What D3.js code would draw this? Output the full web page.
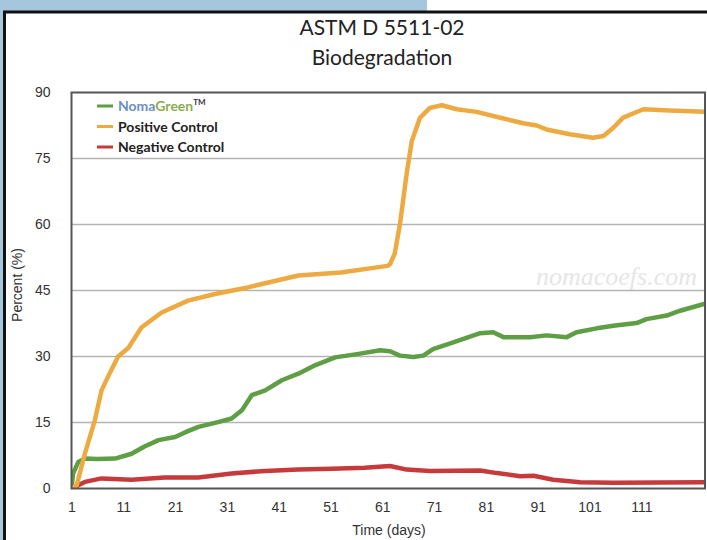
<!DOCTYPE html>
<html>
<head>
<meta charset="utf-8">
<script src="https://cdn.jsdelivr.net/npm/d3@7"></script>
<style>
  html, body { margin: 0; padding: 0; background: #fff; }
  svg { display: block; }
</style>
</head>
<body>
<div id="chart"></div>
<script>
// data (day, percent)
var greenDays = [1, 1.3, 2.3, 3.6, 6, 9.4, 12.6, 15, 17.8, 21, 23, 25.5, 29.3, 31.9, 33.9, 35.8, 38.4, 41.6, 44.8, 48, 51.9, 56.4, 60.6, 62.5, 64.4, 67, 68.9, 70.8, 74.7, 79.9, 82.4, 84.4, 89.5, 92.7, 96.6, 98.5, 102.4, 105.6, 110.1, 112, 115.9, 118.5, 123.3];
var greenVals = [0, 3.4, 6, 6.8, 6.7, 6.8, 7.9, 9.5, 11, 11.7, 12.8, 14, 15.1, 15.9, 17.8, 21.2, 22.3, 24.6, 26.1, 28, 29.8, 30.6, 31.4, 31.2, 30.2, 29.9, 30.2, 31.7, 33.2, 35.3, 35.5, 34.4, 34.4, 34.8, 34.4, 35.5, 36.4, 37, 37.6, 38.5, 39.3, 40.4, 42];

var posDays = [1, 2, 3.6, 5.5, 6.8, 8.5, 10, 12, 14.5, 18.4, 23.5, 28.7, 35, 44.8, 53, 62, 62.5, 63.4, 64.4, 65.7, 66.7, 68.3, 70.2, 72.5, 75.4, 79.2, 84.4, 88.2, 90.8, 92.7, 97.2, 101.7, 103.7, 105.6, 107.5, 111.4, 116.5, 123.3];
var posVals = [0, 0.7, 8, 15.5, 22.3, 26.5, 30, 32, 36.6, 40, 42.7, 44.2, 45.7, 48.4, 49.1, 50.6, 51, 53.4, 60, 71.5, 79, 84.3, 86.5, 87.1, 86.2, 85.6, 84.1, 83, 82.5, 81.6, 80.5, 79.7, 80.1, 82, 84.3, 86.2, 85.9, 85.6];

var negDays = [1, 1.7, 3.6, 6.8, 12.6, 19, 25.5, 31.9, 38.4, 44.8, 51.2, 57.6, 62.5, 65.7, 70.2, 79.9, 83.1, 87.6, 90.2, 94, 99.2, 105.6, 123.3];
var negVals = [0, 0.4, 1.5, 2.3, 2, 2.5, 2.5, 3.4, 4, 4.3, 4.5, 4.7, 5.1, 4.3, 4, 4.1, 3.5, 2.8, 2.9, 2, 1.4, 1.3, 1.4];

var xTicks = [1, 11, 21, 31, 41, 51, 61, 71, 81, 91, 101, 111];
var yTicks = [0, 15, 30, 45, 60, 75, 90];

var seriesNames = ["NomaGreen", "Positive Control", "Negative Control"];
var seriesColors = ["#5e9f45", "#eeaa42", "#c73a3c"];

var W = 707, H = 540;
var svg = d3.select("#chart").append("svg").attr("width", W).attr("height", H);

// page frame (blue tab + black border)
svg.append("rect").attr("x", 0).attr("y", 0).attr("width", 427).attr("height", 11).attr("fill", "#a6c6dd");
svg.append("rect").attr("x", 0).attr("y", 0).attr("width", 3).attr("height", H).attr("fill", "#a6c6dd");
svg.append("line").attr("x1", 3).attr("x2", W).attr("y1", 12).attr("y2", 12).attr("stroke", "#111").attr("stroke-width", 3);
svg.append("line").attr("x1", 4.5).attr("x2", 4.5).attr("y1", 11).attr("y2", H).attr("stroke", "#111").attr("stroke-width", 3);

var plot = { left: 71.5, right: 705, top: 92.5, bottom: 488.5 };

var x = d3.scaleLinear().domain([1, 123.3]).range([plot.left, plot.right]);
var y = d3.scaleLinear().domain([0, 90]).range([plot.bottom, plot.top]);

// title
svg.append("text").attr("x", 382).attr("y", 35).attr("text-anchor", "middle")
  .style("font-family", "Lato, 'Open Sans', sans-serif").style("font-size", "21px").attr("fill", "#222")
  .text("ASTM D 5511-02");
svg.append("text").attr("x", 382).attr("y", 65).attr("text-anchor", "middle")
  .style("font-family", "Lato, 'Open Sans', sans-serif").style("font-size", "21px").attr("fill", "#222")
  .text("Biodegradation");

// watermark
svg.append("text").attr("x", 697).attr("y", 285).attr("text-anchor", "end")
  .style("font-family", "'Liberation Serif', 'DejaVu Serif', serif").style("font-style", "italic")
  .style("font-size", "26px").attr("fill", "#e6e6e6")
  .text("nomacoefs.com");

// gridlines
svg.append("g").selectAll("line").data(yTicks.filter(function (d) { return d > 0 && d < 90; }))
  .enter().append("line")
  .attr("x1", plot.left).attr("x2", plot.right)
  .attr("y1", function (d) { return y(d); }).attr("y2", function (d) { return y(d); })
  .attr("stroke", "#b4b4b4").attr("stroke-width", 1.5);

// axes labels
var yAxis = svg.append("g").attr("transform", "translate(" + (plot.left - 21) + ",0)")
  .call(d3.axisLeft(y).tickValues(yTicks).tickSize(0).tickPadding(0));
var xAxis = svg.append("g").attr("transform", "translate(0," + (plot.bottom + 14) + ")")
  .call(d3.axisBottom(x).tickValues(xTicks).tickSize(0).tickPadding(0));
[yAxis, xAxis].forEach(function (a) {
  a.select(".domain").remove();
  a.selectAll("text").style("font-family", "'Liberation Sans', Arial, sans-serif")
    .style("font-size", "14px").attr("fill", "#333");
});

svg.append("text").attr("transform", "translate(22,285) rotate(-90)").attr("text-anchor", "middle")
  .style("font-family", "'Liberation Sans', Arial, sans-serif").style("font-size", "14px").attr("fill", "#333")
  .text("Percent (%)");
svg.append("text").attr("x", 389).attr("y", 535).attr("text-anchor", "middle")
  .style("font-family", "'Liberation Sans', Arial, sans-serif").style("font-size", "14px").attr("fill", "#333")
  .text("Time (days)");

// lines
var line = d3.line().x(function (d) { return x(d[0]); }).y(function (d) { return y(d[1]); });
var series = [
  d3.zip(greenDays, greenVals),
  d3.zip(posDays, posVals),
  d3.zip(negDays, negVals)
];
svg.append("defs").append("clipPath").attr("id", "clip")
  .append("rect").attr("x", plot.left).attr("y", plot.top - 5).attr("width", plot.right - plot.left).attr("height", plot.bottom - plot.top + 5);

var lines = svg.append("g").attr("clip-path", "url(#clip)");
[2, 0, 1].forEach(function (i) {
  lines.append("path").datum(series[i]).attr("d", line)
    .attr("fill", "none").attr("stroke", seriesColors[i]).attr("stroke-width", 4.5)
    .attr("stroke-linejoin", "round").attr("stroke-linecap", "round");
});

// plot frame
svg.append("rect").attr("x", plot.left).attr("y", plot.top)
  .attr("width", plot.right - plot.left).attr("height", plot.bottom - plot.top)
  .attr("fill", "none").attr("stroke", "#555").attr("stroke-width", 2);

// legend
var legend = svg.append("g").attr("transform", "translate(97,106)");
seriesNames.forEach(function (name, i) {
  var g = legend.append("g").attr("transform", "translate(0," + (i * 20.5) + ")");
  g.append("line").attr("x1", 0).attr("x2", 16).attr("y1", 0).attr("y2", 0)
    .attr("stroke", seriesColors[i]).attr("stroke-width", 3);
  var t = g.append("text").attr("x", 21).attr("y", 5)
    .style("font-family", "Lato, 'Open Sans', sans-serif").style("font-size", "14px").style("font-weight", "bold")
    .attr("fill", "#222");
  if (i === 0) {
    t.append("tspan").attr("fill", "#6c8fc4").text("Noma");
    t.append("tspan").attr("fill", "#8cab4e").text("Green");
    t.append("tspan").attr("dy", -6).style("font-size", "8px").attr("fill", "#333").text("TM");
  } else {
    t.text(name);
  }
});
</script>
</body>
</html>
